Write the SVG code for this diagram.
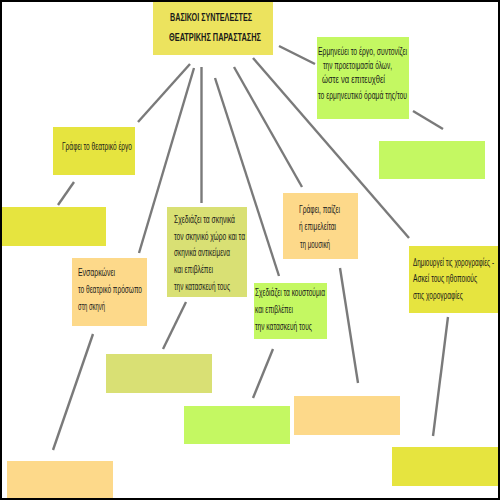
<svg xmlns="http://www.w3.org/2000/svg" width="500" height="500" viewBox="0 0 500 500">
<style>
.t{font-family:"Liberation Sans",Arial,sans-serif;font-size:10px;fill:#1a1a1a}
.b{font-weight:bold;font-size:10.5px}
.c{stroke:#7a7a7a;stroke-width:2.4;fill:none;stroke-linecap:butt}
.y{fill:#e6e43f}.ty{fill:#ece35e}.g{fill:#c4f862}.o{fill:#fdd98a}.ol{fill:#d9e074}
</style>
<rect x="0" y="0" width="500" height="500" fill="#ffffff"/>
<g id="connectors">
<line class="c" x1="279" y1="46" x2="315" y2="64"/>
<line class="c" x1="413" y1="111" x2="443" y2="129"/>
<line class="c" x1="190" y1="64" x2="138" y2="122"/>
<line class="c" x1="74" y1="182" x2="58" y2="205"/>
<line class="c" x1="194" y1="68" x2="139" y2="253"/>
<line class="c" x1="93" y1="334" x2="53" y2="450"/>
<line class="c" x1="201.5" y1="67" x2="201.5" y2="203"/>
<line class="c" x1="186" y1="302" x2="163" y2="349"/>
<line class="c" x1="215" y1="78" x2="279" y2="276"/>
<line class="c" x1="273" y1="349" x2="253" y2="398"/>
<line class="c" x1="234" y1="67" x2="302" y2="187"/>
<line class="c" x1="340" y1="268" x2="358" y2="383"/>
<line class="c" x1="253" y1="58" x2="409" y2="238"/>
<line class="c" x1="448" y1="317" x2="433" y2="436"/>
</g>
<g id="title">
<rect class="ty" x="153" y="0" width="120" height="55"/>
<text class="t b" x="170" y="21" textLength="82" lengthAdjust="spacingAndGlyphs">ΒΑΣΙΚΟΙ ΣΥΝΤΕΛΕΣΤΕΣ</text>
<text class="t b" x="169" y="41" textLength="92" lengthAdjust="spacingAndGlyphs">ΘΕΑΤΡΙΚΗΣ ΠΑΡΑΣΤΑΣΗΣ</text>
</g>
<g id="director">
<rect class="g" x="317" y="37" width="92" height="82"/>
<text class="t" x="318" y="55" textLength="89" lengthAdjust="spacingAndGlyphs">Ερμηνεύει το έργο, συντονίζει</text>
<text class="t" x="323" y="69" textLength="69" lengthAdjust="spacingAndGlyphs">την προετοιμασία όλων,</text>
<text class="t" x="322" y="83" textLength="63" lengthAdjust="spacingAndGlyphs">ώστε να επιτευχθεί</text>
<text class="t" x="318" y="99" textLength="89" lengthAdjust="spacingAndGlyphs">το ερμηνευτικό όραμά της/του</text>
</g>
<g id="director-empty"><rect class="g" x="379" y="141" width="106" height="38"/></g>
<g id="writer">
<rect class="y" x="53" y="127" width="82" height="48"/>
<text class="t" x="62" y="150" textLength="70" lengthAdjust="spacingAndGlyphs">Γράφει το θεατρικό έργο</text>
</g>
<g id="writer-empty"><rect class="y" x="2" y="207" width="104" height="39"/></g>
<g id="actor">
<rect class="o" x="72" y="258" width="75" height="68"/>
<text class="t" x="78" y="276" textLength="37" lengthAdjust="spacingAndGlyphs">Ενσαρκώνει</text>
<text class="t" x="78" y="293" textLength="64" lengthAdjust="spacingAndGlyphs">το θεατρικό πρόσωπο</text>
<text class="t" x="78" y="310" textLength="27" lengthAdjust="spacingAndGlyphs">στη σκηνή</text>
</g>
<g id="actor-empty"><rect class="o" x="7" y="461" width="106" height="39"/></g>
<g id="set-designer">
<rect class="ol" x="167" y="207" width="80" height="90"/>
<text class="t" x="174" y="223" textLength="61" lengthAdjust="spacingAndGlyphs">Σχεδιάζει τα σκηνικά</text>
<text class="t" x="174" y="240" textLength="71" lengthAdjust="spacingAndGlyphs">τον σκηνικό χώρο και τα</text>
<text class="t" x="174" y="256" textLength="56" lengthAdjust="spacingAndGlyphs">σκηνικά αντικείμενα</text>
<text class="t" x="174" y="273" textLength="39" lengthAdjust="spacingAndGlyphs">και επιβλέπει</text>
<text class="t" x="174" y="290" textLength="56" lengthAdjust="spacingAndGlyphs">την κατασκευή τους</text>
</g>
<g id="set-empty"><rect class="ol" x="106" y="354" width="106" height="39"/></g>
<g id="costume">
<rect class="g" x="254" y="283" width="73" height="56"/>
<text class="t" x="255" y="296" textLength="70" lengthAdjust="spacingAndGlyphs">Σχεδιάζει τα κουστούμια</text>
<text class="t" x="255" y="313" textLength="38" lengthAdjust="spacingAndGlyphs">και επιβλέπει</text>
<text class="t" x="255" y="330" textLength="57" lengthAdjust="spacingAndGlyphs">την κατασκευή τους</text>
</g>
<g id="costume-empty"><rect class="g" x="184" y="406" width="106" height="38"/></g>
<g id="music">
<rect class="o" x="283" y="193" width="75" height="66"/>
<text class="t" x="299" y="213" textLength="41" lengthAdjust="spacingAndGlyphs">Γράφει, παίζει</text>
<text class="t" x="299" y="230" textLength="37" lengthAdjust="spacingAndGlyphs">ή επιμελείται</text>
<text class="t" x="300" y="248" textLength="30" lengthAdjust="spacingAndGlyphs">τη μουσική</text>
</g>
<g id="music-empty"><rect class="o" x="294" y="396" width="106" height="39"/></g>
<g id="choreographer">
<rect class="y" x="409" y="246" width="89" height="67"/>
<g transform="translate(413,0) scale(0.6,1)">
<text class="t" x="0" y="266" textLength="135" lengthAdjust="spacingAndGlyphs">Δημιουργεί τις χορογραφίες -</text>
<text class="t" x="0" y="282" textLength="107" lengthAdjust="spacingAndGlyphs">Ασκεί τους ηθοποιούς</text>
<text class="t" x="0" y="299" textLength="83" lengthAdjust="spacingAndGlyphs">στις χορογραφίες</text>
</g>
</g>
<g id="choreographer-empty"><rect class="y" x="392" y="447" width="106" height="39"/></g>
<rect x="1" y="1" width="498" height="498" fill="none" stroke="#000" stroke-width="2"/>
</svg>
